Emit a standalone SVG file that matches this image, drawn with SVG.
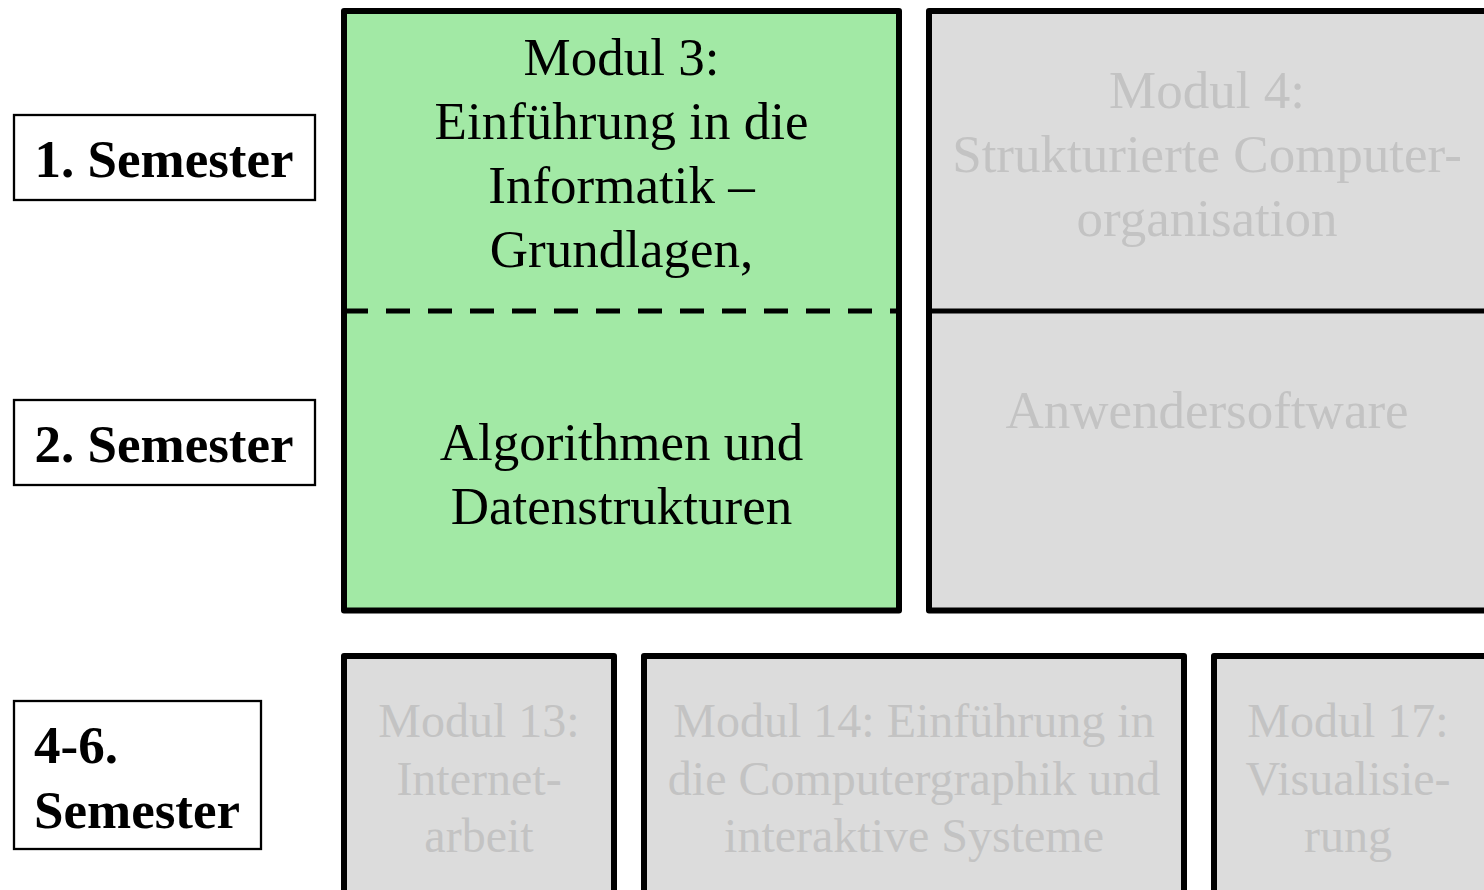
<svg xmlns="http://www.w3.org/2000/svg" width="1484" height="890" viewBox="0 0 1484 890">
  <style>
    .sem { fill: #ffffff; stroke: #000000; stroke-width: 2.3; }
    .sem-text { font-family: "Liberation Serif", "Times New Roman", serif; font-weight: bold; font-size: 53px; fill: #000000; }
    .mod { stroke: #000000; stroke-width: 6; stroke-linejoin: round; }
    .active { fill: #a2e9a5; }
    .inactive { fill: #dcdcdc; }
    .mod-text { font-family: "Liberation Serif", "Times New Roman", serif; font-size: 53px; text-anchor: middle; }
    .mod-text-sm { font-family: "Liberation Serif", "Times New Roman", serif; font-size: 48px; text-anchor: middle; }
    .dark { fill: #000000; }
    .faded { fill: #c3c3c3; }
    .divider { stroke: #000000; stroke-width: 5; fill: none; }
  </style>

  <rect width="1484" height="890" fill="#ffffff"/>

  <!-- semester labels -->
  <g id="sem1">
    <rect class="sem" x="14" y="115" width="301" height="85"/>
    <text class="sem-text" x="164" y="177" text-anchor="middle">1. Semester</text>
  </g>
  <g id="sem2">
    <rect class="sem" x="14" y="400" width="301" height="85"/>
    <text class="sem-text" x="164" y="462" text-anchor="middle">2. Semester</text>
  </g>
  <g id="sem46">
    <rect class="sem" x="14" y="701" width="247" height="148"/>
    <text class="sem-text" x="34" y="763">4-6.</text>
    <text class="sem-text" x="34" y="828">Semester</text>
  </g>

  <!-- Modul 3, spanning semesters 1 and 2 -->
  <g id="modul3">
    <rect class="mod active" x="344" y="11" width="555" height="599.5"/>
    <text class="mod-text dark" x="621.5" y="75">Modul 3:</text>
    <text class="mod-text dark" x="621.5" y="139">Einführung in die</text>
    <text class="mod-text dark" x="621.5" y="203">Informatik –</text>
    <text class="mod-text dark" x="621.5" y="267">Grundlagen,</text>
    <text class="mod-text dark" x="621.5" y="460">Algorithmen und</text>
    <text class="mod-text dark" x="621.5" y="524">Datenstrukturen</text>
  </g>

  <!-- Modul 4, spanning semesters 1 and 2 -->
  <g id="modul4">
    <rect class="mod inactive" x="929" y="11" width="559" height="599.5"/>
    <text class="mod-text faded" x="1207" y="108">Modul 4:</text>
    <text class="mod-text faded" x="1207" y="172">Strukturierte Computer-</text>
    <text class="mod-text faded" x="1207" y="236">organisation</text>
    <text class="mod-text faded" x="1207" y="428">Anwendersoftware</text>
  </g>

  <!-- modules of semesters 4-6 -->
  <g id="modul13">
    <rect class="mod inactive" x="344" y="656" width="270" height="250"/>
    <text class="mod-text-sm faded" x="479" y="737">Modul 13:</text>
    <text class="mod-text-sm faded" x="479" y="795">Internet-</text>
    <text class="mod-text-sm faded" x="479" y="852">arbeit</text>
  </g>
  <g id="modul14">
    <rect class="mod inactive" x="644" y="656" width="540" height="250"/>
    <text class="mod-text-sm faded" x="914" y="737">Modul 14: Einführung in</text>
    <text class="mod-text-sm faded" x="914" y="795">die Computergraphik und</text>
    <text class="mod-text-sm faded" x="914" y="852">interaktive Systeme</text>
  </g>
  <g id="modul17">
    <rect class="mod inactive" x="1214" y="656" width="274" height="250"/>
    <text class="mod-text-sm faded" x="1348" y="737">Modul 17:</text>
    <text class="mod-text-sm faded" x="1348" y="795">Visualisie-</text>
    <text class="mod-text-sm faded" x="1348" y="852">rung</text>
  </g>

  <!-- semester boundaries inside the two-semester modules -->
  <g id="connectors">
    <line class="divider" x1="344" y1="311" x2="899" y2="311" stroke-dasharray="24 18"/>
    <line class="divider" x1="929" y1="311" x2="1488" y2="311"/>
  </g>
</svg>
